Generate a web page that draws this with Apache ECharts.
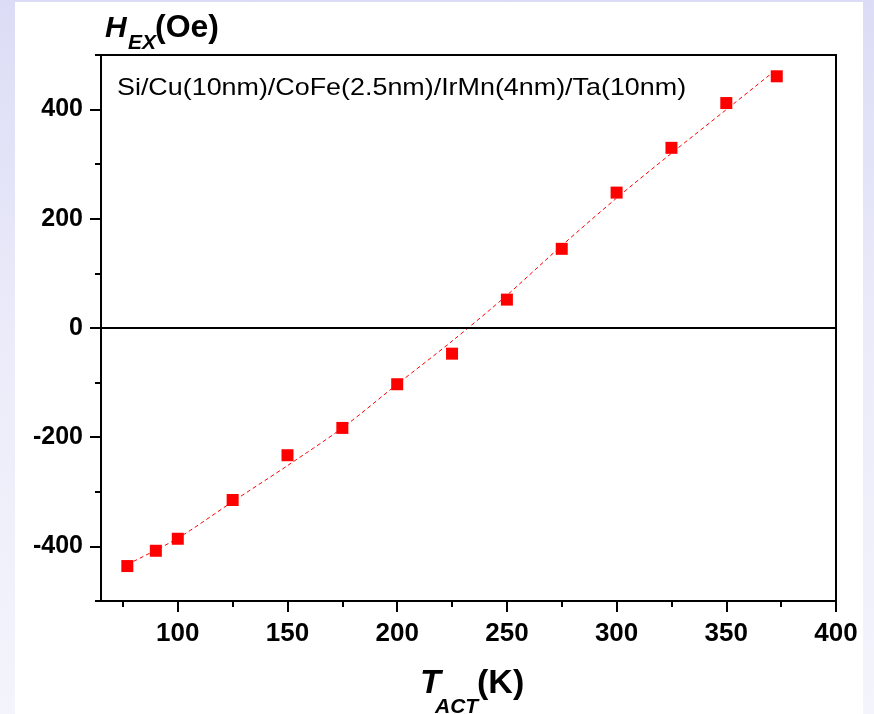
<!DOCTYPE html>
<html>
<head>
<meta charset="utf-8">
<script src="https://cdn.jsdelivr.net/npm/echarts@6/dist/echarts.min.js"></script>
<style>
html,body{margin:0;padding:0;width:874px;height:714px;overflow:hidden;}
body{background:linear-gradient(to bottom,#dcdcf6 0%,#ececfa 50%,#f4f4fc 100%);position:relative;}
#panel{position:absolute;left:15px;top:2px;width:848px;height:712px;background:#fff;}
#chart{position:absolute;left:0;top:0;width:874px;height:714px;}
</style>
</head>
<body>
<div id="panel"></div>
<div id="chart"></div>
<script>
// Measured exchange bias field vs activation temperature
var tempK = [77, 90, 100, 125, 150, 175, 200, 225, 250, 275, 300, 325, 350, 373];
var hexOe = [-436, -408, -386, -315, -233, -183, -103, -47, 52, 145, 248, 330, 412, 461];
// Dashed fit curve
var fitT = [77, 100, 125, 150, 175, 200, 225, 250, 275, 300, 325, 350, 373];
var fitH = [-433, -385, -318, -252, -183, -103, -24, 60, 151, 238, 320, 400, 474];
// Axis ticks
var xMajor = [100, 150, 200, 250, 300, 350, 400];
var xMinor = [75, 125, 175, 225, 275, 325, 375];
var yMajor = [-400, -200, 0, 200, 400];
var yMinor = [-500, -300, -100, 100, 300, 500];
var sampleLabel = 'Si/Cu(10nm)/CoFe(2.5nm)/IrMn(4nm)/Ta(10nm)';

var FONT = '"Liberation Sans", Arial, Helvetica, sans-serif';
var chart = echarts.init(document.getElementById('chart'), null, {renderer: 'canvas'});

function pairs(xs, ys) { return xs.map(function (x, i) { return [x, ys[i]]; }); }

function lbl(size) { return {color: '#000', fontFamily: FONT, fontWeight: 'bold', fontSize: size}; }

var option = {
  backgroundColor: 'transparent',
  animation: false,
  grid: {left: 101, top: 55, right: 38, bottom: 113, show: true, borderColor: '#000', borderWidth: 2, backgroundColor: 'transparent'},
  xAxis: [
    {type: 'value', position: 'bottom', min: 65, max: 400,
     axisLine: {show: true, onZero: false, lineStyle: {color: '#000', width: 2}},
     axisTick: {show: true, inside: false, length: 11, customValues: xMajor, lineStyle: {color: '#000', width: 2}},
     axisLabel: Object.assign({margin: 20, customValues: xMajor}, lbl(26)),
     splitLine: {show: false}},
    {type: 'value', position: 'bottom', min: 65, max: 400,
     axisLine: {show: false, onZero: false},
     axisTick: {show: true, length: 6, customValues: xMinor, lineStyle: {color: '#000', width: 2}},
     axisLabel: {show: false},
     splitLine: {show: false}}
  ],
  yAxis: [
    {type: 'value', position: 'left', min: -500, max: 500,
     axisLine: {show: true, onZero: false, lineStyle: {color: '#000', width: 2}},
     axisTick: {show: true, length: 11, customValues: yMajor, lineStyle: {color: '#000', width: 2}},
     axisLabel: Object.assign({margin: 18, customValues: yMajor}, lbl(25)),
     splitLine: {show: false}},
    {type: 'value', position: 'left', min: -500, max: 500,
     axisLine: {show: false, onZero: false},
     axisTick: {show: true, length: 6, customValues: yMinor, lineStyle: {color: '#000', width: 2}},
     axisLabel: {show: false},
     splitLine: {show: false}}
  ],
  series: [
    {type: 'line', data: pairs(fitT, fitH), xAxisIndex: 0, yAxisIndex: 0,
     showSymbol: false, symbol: 'none', smooth: 0.3, z: 2,
     lineStyle: {color: '#ff0000', width: 1, type: [4, 3]},
     markLine: {silent: true, symbol: 'none', label: {show: false},
       lineStyle: {color: '#000', width: 2, type: 'solid'},
       data: [{yAxis: 0}]}},
    {type: 'scatter', data: pairs(tempK, hexOe), xAxisIndex: 0, yAxisIndex: 0,
     symbol: 'rect', symbolSize: 12, z: 3,
     itemStyle: {color: '#ff0000', opacity: 1}}
  ],
  graphic: [
    {type: 'text', x: 105, y: 14, style: {text: 'H', font: 'italic bold 30px ' + FONT, fill: '#000'}},
    {type: 'text', x: 128, y: 33, style: {text: 'EX', font: 'italic bold 21px ' + FONT, fill: '#000'}},
    {type: 'text', x: 155, y: 12, style: {text: '(Oe)', font: 'bold 32px ' + FONT, fill: '#000'}},
    {type: 'text', x: 117, y: 76, scaleX: 1.12, style: {text: sampleLabel, font: '24px ' + FONT, fill: '#000'}},
    {type: 'text', x: 420, y: 667, style: {text: 'T', font: 'italic bold 34px ' + FONT, fill: '#000'}},
    {type: 'text', x: 435, y: 697, style: {text: 'ACT', font: 'italic bold 21px ' + FONT, fill: '#000'}},
    {type: 'text', x: 477, y: 667, style: {text: '(K)', font: 'bold 34px ' + FONT, fill: '#000'}}
  ]
};
chart.setOption(option);
</script>
</body>
</html>
